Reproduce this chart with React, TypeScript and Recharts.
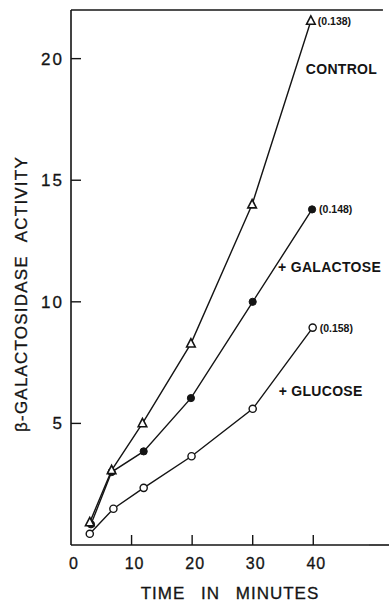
import React from 'react';
import { LineChart, Line, XAxis, YAxis, ReferenceLine, Label } from 'recharts';

const controlTime = [3.1, 6.7, 11.8, 19.8, 29.9, 39.6];
const controlActivity = [0.93, 3.07, 5.0, 8.28, 14.0, 21.55];
const galactoseTime = [3.3, 6.7, 12.0, 19.8, 30.0, 39.8];
const galactoseActivity = [0.85, 3.0, 3.85, 6.04, 10.0, 13.8];
const glucoseTime = [3.1, 7.0, 12.0, 19.9, 30.0, 39.9];
const glucoseActivity = [0.46, 1.49, 2.35, 3.65, 5.6, 8.94];

const xTicks = [0, 10, 20, 30, 40];
const yTicks = [5, 10, 15, 20];

const seriesNames = ['CONTROL', '+ GALACTOSE', '+ GLUCOSE'];
const endNotes = ['(0.138)', '(0.148)', '(0.158)'];

const toRows = (t: number[], v: number[]) => t.map((x, i) => ({ t: x, v: v[i] }));
const control = toRows(controlTime, controlActivity);
const galactose = toRows(galactoseTime, galactoseActivity);
const glucose = toRows(glucoseTime, glucoseActivity);

const font = '"Liberation Sans", Arial, sans-serif';
const ink = '#141414';

const Triangle = (p: any) => {
  const { cx, cy } = p;
  if (cx == null || cy == null) return null;
  return (
    <polygon
      points={`${cx},${cy - 5} ${cx - 4.3},${cy + 3.3} ${cx + 4.3},${cy + 3.3}`}
      fill="#fff"
      stroke={ink}
      strokeWidth={1.6}
    />
  );
};

const FilledDot = (p: any) =>
  p.cx == null ? null : <circle cx={p.cx} cy={p.cy} r={3.6} fill={ink} stroke={ink} />;

const OpenDot = (p: any) =>
  p.cx == null ? null : <circle cx={p.cx} cy={p.cy} r={3.6} fill="#fff" stroke={ink} strokeWidth={1.4} />;

// label on last point: the value note, plus the series name further down
const endLabel = (k: number, nameDx: number, nameDy: number) => (p: any) => {
  if (p.index !== 5) return null;
  return (
    <g fontFamily={font} fill={ink} fontWeight="bold">
      <text x={p.x + 7} y={p.y + 4} fontSize={10.5}>
        {endNotes[k]}
      </text>
      <text x={p.x + nameDx} y={p.y + nameDy} fontSize={14} letterSpacing={0.3}>
        {seriesNames[k]}
      </text>
    </g>
  );
};

const XTick = (p: any) => {
  const { x, y, payload } = p;
  return (
    <g>
      {payload.value !== 0 && <line x1={x} y1={y} x2={x} y2={y - 10} stroke={ink} strokeWidth={1.4} />}
      <text x={x + 3} y={y + 24} textAnchor="middle" fontFamily={font} fontSize={16} fill={ink} stroke={ink} strokeWidth={0.3} letterSpacing={1}>
        {payload.value}
      </text>
    </g>
  );
};

const YTick = (p: any) => {
  const { x, y, payload } = p;
  return (
    <g>
      <line x1={x} y1={y} x2={x + 10} y2={y} stroke={ink} strokeWidth={1.4} />
      <text x={x - 7} y={y + 6} textAnchor="end" fontFamily={font} fontSize={17} fill={ink} stroke={ink} strokeWidth={0.3} letterSpacing={2}>
        {payload.value}
      </text>
    </g>
  );
};

export default function App() {
  return (
    <div style={{ position: 'absolute', left: 0, top: 0, background: '#fff' }}>
      <LineChart
        width={389}
        height={602}
        margin={{ top: 10, right: 20, bottom: 0, left: 0 }}
        accessibilityLayer={false}
      >
        <XAxis
          type="number"
          dataKey="t"
          domain={[0, 49.2]}
          ticks={xTicks}
          height={57}
          tickSize={0}
          tickMargin={0}
          tick={<XTick />}
          axisLine={{ stroke: ink, strokeWidth: 1.6 }}
        >
          <Label
            value="TIME IN MINUTES"
            position="insideBottom"
            offset={3}
            dx={10}
            style={{ fontFamily: font, fontSize: 17, fill: ink, stroke: ink, strokeWidth: 0.3, wordSpacing: 10, letterSpacing: 1 }}
          />
        </XAxis>
        <YAxis
          type="number"
          domain={[0, 22]}
          ticks={yTicks}
          width={71}
          tickSize={0}
          tickMargin={0}
          tick={<YTick />}
          axisLine={{ stroke: ink, strokeWidth: 1.6 }}
        >
          <Label
            content={() => (
              <text
                transform="translate(27, 294) rotate(-90)"
                textAnchor="middle"
                fontFamily={font}
                fontSize={17}
                fill={ink}
                stroke={ink}
                strokeWidth={0.3}
                letterSpacing={1.2}
                wordSpacing={8}
              >
                β-GALACTOSIDASE ACTIVITY
              </text>
            )}
          />
        </YAxis>
        {/* frame lines run past the plotted domain, as in the original */}
        <ReferenceLine
          segment={[{ x: 0, y: 22 }, { x: 51.5, y: 22 }]}
          stroke={ink}
          strokeWidth={1.6}
          ifOverflow="visible"
        />
        <ReferenceLine
          segment={[{ x: 49.2, y: 0 }, { x: 52.5, y: 0 }]}
          stroke={ink}
          strokeWidth={1.6}
          ifOverflow="visible"
        />
        <Line
          data={glucose}
          dataKey="v"
          stroke={ink}
          strokeWidth={1.4}
          dot={<OpenDot />}
          isAnimationActive={false}
          label={endLabel(2, -34, 68)}
        />
        <Line
          data={galactose}
          dataKey="v"
          stroke={ink}
          strokeWidth={1.4}
          dot={<FilledDot />}
          isAnimationActive={false}
          label={endLabel(1, -34, 63)}
        />
        <Line
          data={control}
          dataKey="v"
          stroke={ink}
          strokeWidth={1.4}
          dot={<Triangle />}
          isAnimationActive={false}
          label={endLabel(0, -5, 53)}
        />
      </LineChart>
    </div>
  );
}
